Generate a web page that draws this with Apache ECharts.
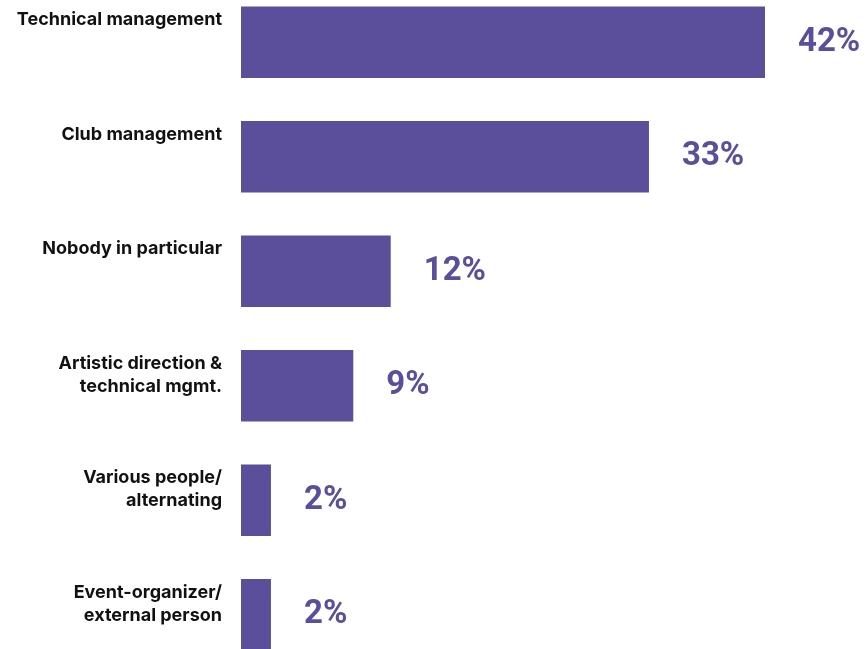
<!DOCTYPE html>
<html>
<head>
<meta charset="utf-8">
<script src="https://cdn.jsdelivr.net/npm/echarts@6/dist/echarts.min.js"></script>
<style>
  html, body { margin: 0; padding: 0; background: #fff; overflow: hidden; width: 866px; height: 649px; }
  /* chart is a bit taller than the window: the first band starts above the top edge
     and the last bar is cut off at the bottom, like in the original */
  #chart { position: absolute; left: 0; top: -15px; width: 866px; height: 687px; }
</style>
</head>
<body>
<div id="chart"></div>
<script>
// categories, top to bottom
const categories = [
  'Technical management',
  'Club management',
  'Nobody in particular',
  'Artistic direction &\ntechnical mgmt.',
  'Various people/\nalternating',
  'Event-organizer/\nexternal person'
]
// share in percent (label shows rounded value)
const shares = [42.0, 32.7, 12.0, 9.0, 2.4, 2.4]

const barColor = '#5b4e9a'

const chart = echarts.init(document.getElementById('chart'))

chart.setOption({
  animation: false,
  grid: {
    left: 241,
    right: 1.2,
    top: 0,
    bottom: 0
  },
  xAxis: {
    type: 'value',
    min: 0,
    max: 50,
    show: false
  },
  yAxis: {
    type: 'category',
    inverse: true,
    data: categories,
    show: false
  },
  series: [
    {
      // the bars, with the category text on their left
      type: 'bar',
      data: shares,
      barWidth: 71.5,
      itemStyle: { color: barColor },
      label: {
        show: true,
        position: [-19, 2],
        align: 'right',
        verticalAlign: 'top',
        formatter: p => categories[p.dataIndex],
        fontFamily: 'Inter',
        fontWeight: 'bold',
        fontSize: 18,
        lineHeight: 23,
        color: '#111'
      }
    },
    {
      // invisible copy that only carries the percent labels
      type: 'bar',
      data: shares,
      barWidth: 71.5,
      barGap: '-100%',
      silent: true,
      itemStyle: { color: 'rgba(0,0,0,0)' },
      label: {
        show: true,
        position: 'right',
        distance: 33,
        formatter: p => Math.round(p.value) + '%',
        fontFamily: 'Roboto',
        fontWeight: 'bold',
        fontSize: 33,
        color: barColor
      }
    }
  ]
})
</script>
</body>
</html>
